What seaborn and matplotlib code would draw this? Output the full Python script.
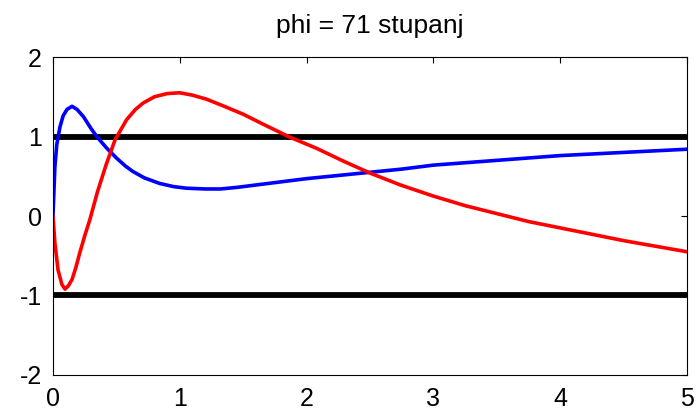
import numpy as np
import pandas as pd
import matplotlib
matplotlib.use("Agg")
import matplotlib.pyplot as plt
import seaborn as sns

# Step responses for phi = 71 degrees
t_blue = [0, 0.015, 0.03, 0.055, 0.08, 0.11, 0.15, 0.19, 0.24, 0.30, 0.35, 0.42,
          0.50, 0.57, 0.63, 0.72, 0.84, 0.95, 1.05, 1.20, 1.32, 1.45, 1.55, 1.75,
          2.0, 2.25, 2.5, 2.75, 3.0, 3.25, 3.5, 3.75, 4.0, 4.25, 4.5, 4.75, 5.0]
y_blue = [0, 0.62, 0.90, 1.12, 1.26, 1.34, 1.38, 1.34, 1.25, 1.10, 0.99, 0.86,
          0.73, 0.63, 0.56, 0.48, 0.41, 0.37, 0.35, 0.34, 0.34, 0.36, 0.38, 0.42,
          0.47, 0.51, 0.55, 0.59, 0.64, 0.67, 0.70, 0.73, 0.76, 0.78, 0.80, 0.82, 0.84]

t_red = [0, 0.015, 0.04, 0.07, 0.095, 0.12, 0.15, 0.18, 0.21, 0.25, 0.29, 0.35,
         0.42, 0.49, 0.58, 0.65, 0.71, 0.80, 0.90, 1.0, 1.1, 1.21, 1.35, 1.5,
         1.65, 1.87, 2.08, 2.29, 2.5, 2.74, 3.0, 3.25, 3.5, 3.75, 4.0, 4.25,
         4.5, 4.75, 5.0]
y_red = [0, -0.34, -0.68, -0.86, -0.92, -0.88, -0.80, -0.65, -0.47, -0.25, -0.05, 0.30,
         0.65, 0.96, 1.21, 1.34, 1.42, 1.50, 1.54, 1.55, 1.52, 1.47, 1.38, 1.28,
         1.16, 0.99, 0.85, 0.69, 0.54, 0.39, 0.25, 0.13, 0.03, -0.07, -0.15, -0.23,
         -0.31, -0.38, -0.45]

# Horizontal limit lines
t_lim = [0, 5]
y_upper = [1, 1]
y_lower = [-1, -1]

x_ticks = [0, 1, 2, 3, 4, 5]
y_ticks = [-2, -1, 0, 1, 2]
title = "phi = 71 stupanj"

sns.set_style("white")
plt.rcParams["font.family"] = ["Liberation Sans", "DejaVu Sans"]

fig = plt.figure(figsize=(6.99, 4.11), dpi=100)
ax = fig.add_axes([0.0758, 0.0876, 0.9072, 0.7737])

df_up = pd.DataFrame({"t": t_lim, "y": y_upper})
df_lo = pd.DataFrame({"t": t_lim, "y": y_lower})
df_b = pd.DataFrame({"t": t_blue, "y": y_blue})
df_r = pd.DataFrame({"t": t_red, "y": y_red})

sns.lineplot(data=df_up, x="t", y="y", color="black", linewidth=4.2, ax=ax)
sns.lineplot(data=df_lo, x="t", y="y", color="black", linewidth=4.2, ax=ax)
sns.lineplot(data=df_b, x="t", y="y", color=(0, 0, 1), linewidth=2.6, ax=ax, sort=False)
sns.lineplot(data=df_r, x="t", y="y", color=(1, 0, 0), linewidth=2.6, ax=ax, sort=False)

ax.set_xlim(0, 5)
ax.set_ylim(-2, 2)
ax.set_xticks(x_ticks)
ax.set_yticks(y_ticks)
ax.set_xticklabels([str(v) for v in x_ticks])
ax.set_yticklabels([str(v) for v in y_ticks])
ax.set_xlabel("")
ax.set_ylabel("")
ax.tick_params(direction="in", length=4, width=0.8, top=True, right=True,
               labelsize=18, colors="black")
ax.tick_params(axis="x", pad=9)
ax.tick_params(axis="y", pad=8)
for s in ax.spines.values():
    s.set_visible(True)
    s.set_color("black")
    s.set_linewidth(0.8)
ax.set_title(title, fontsize=19, pad=17, color="black")

fig.savefig("out.png", dpi=100)
